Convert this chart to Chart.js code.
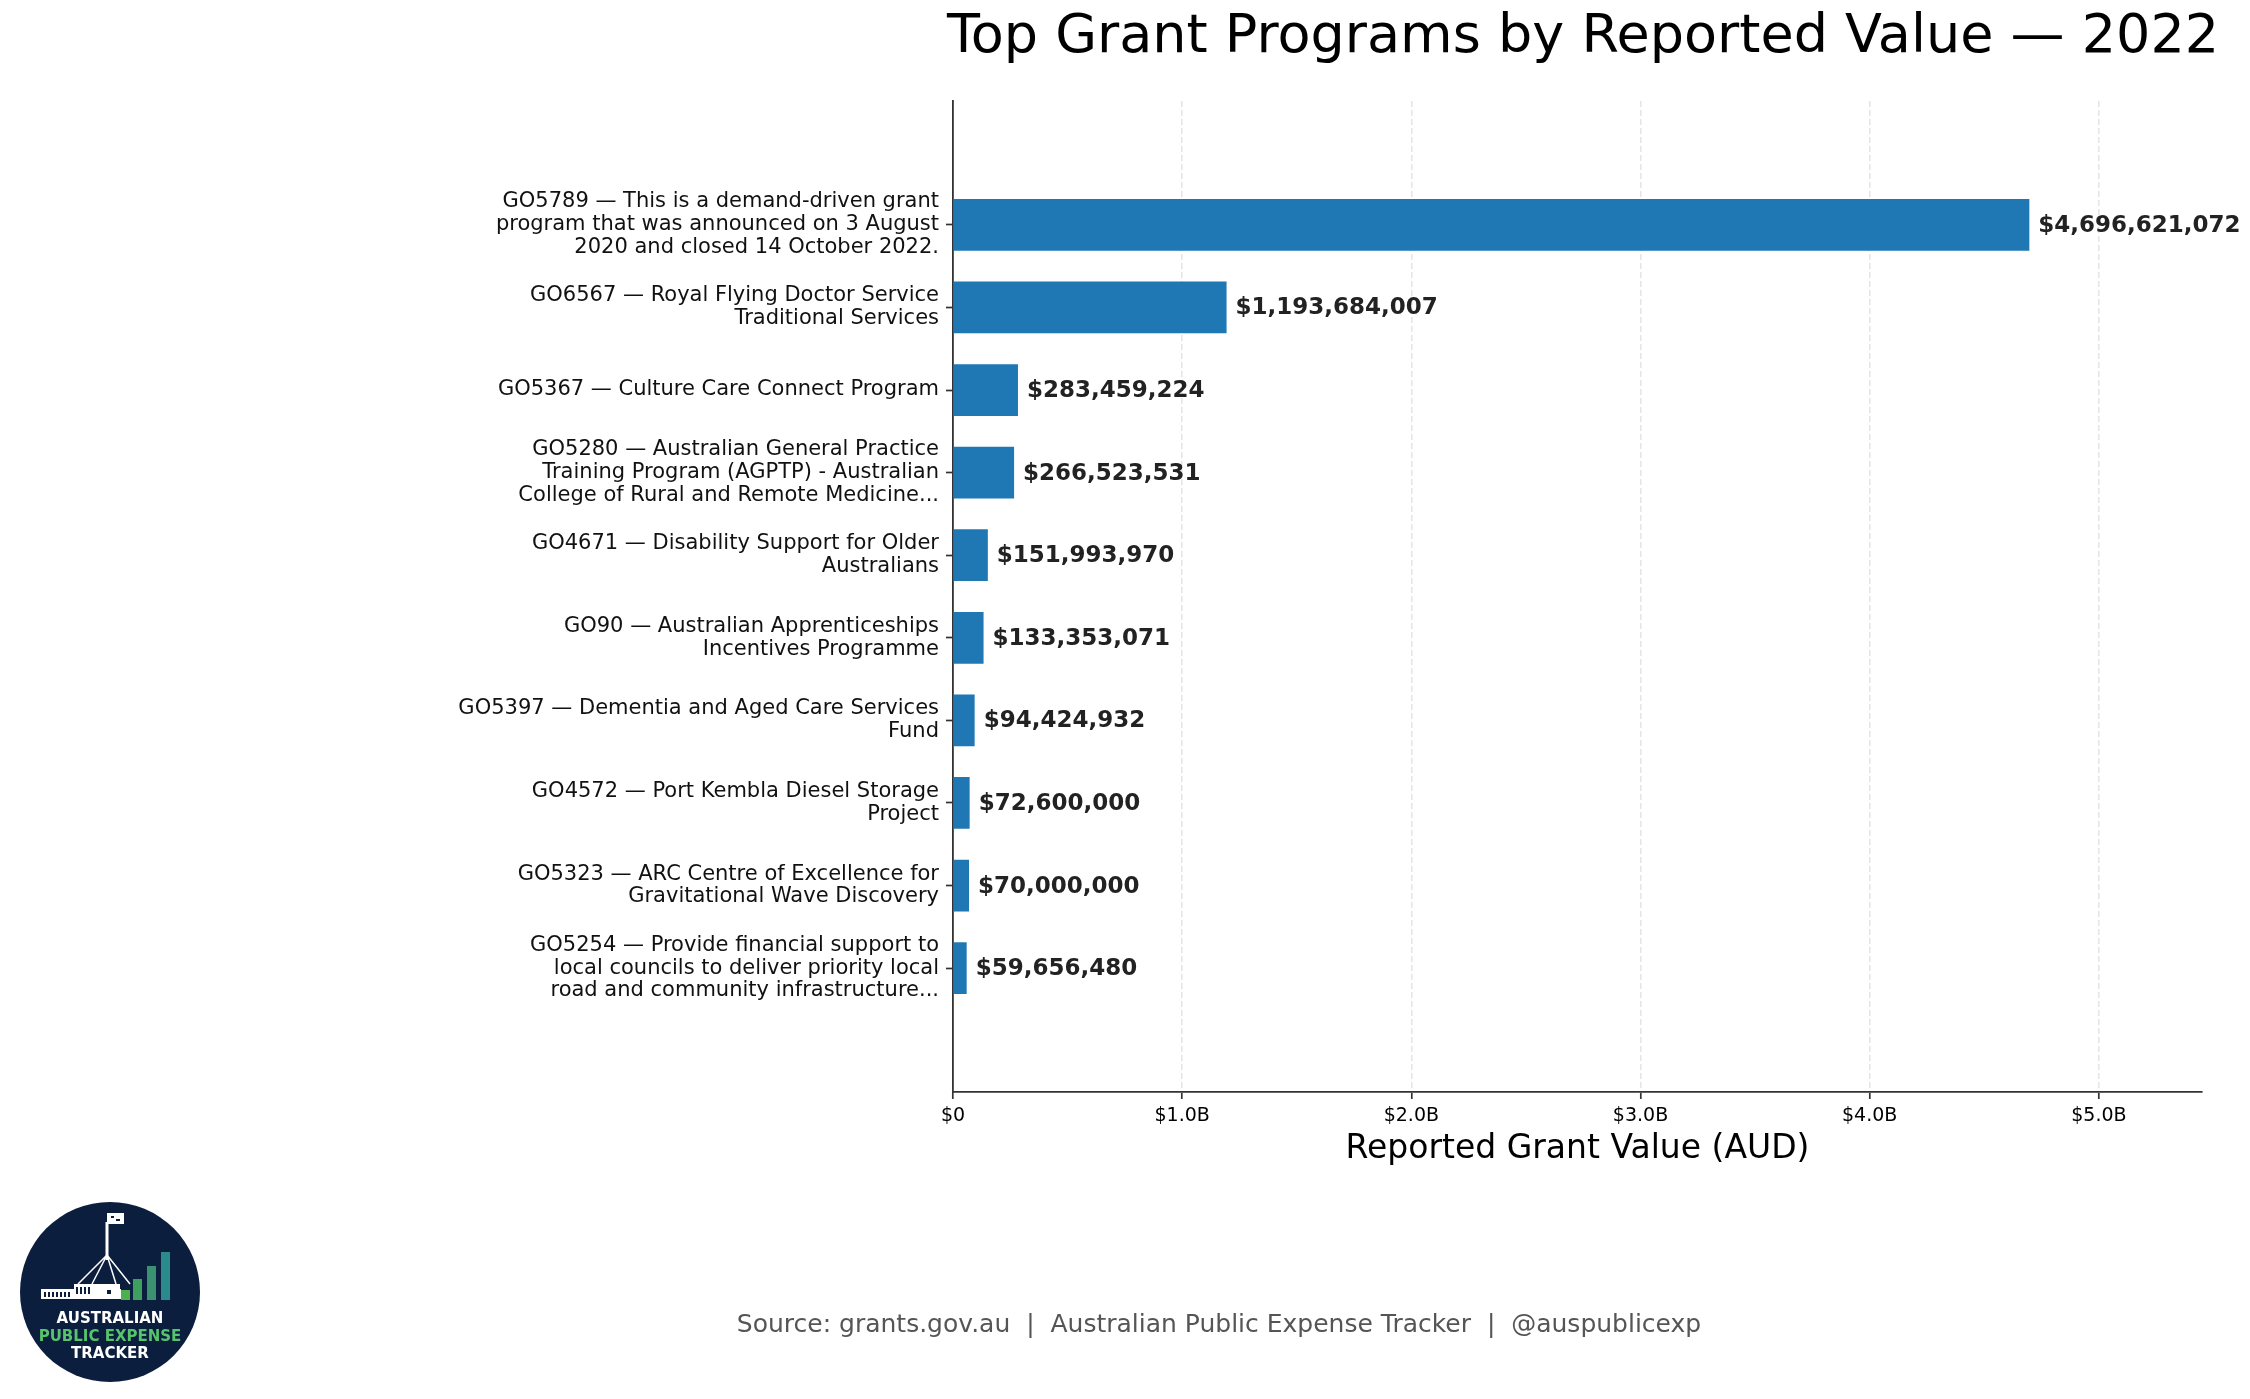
<!DOCTYPE html>
<html lang="en">
  <head>
    <meta charset="UTF-8" />
    <title>Top Grant Programs by Reported Value — 2022</title>
    <script src="https://cdn.jsdelivr.net/npm/chart.js@4.4.1/dist/chart.umd.min.js"></script>
    <style>
      body { margin: 0; background: #fff; }
      #wrap { position: relative; width: 2250px; height: 1399px; }
    </style>
  </head>
  <body>
    <div id="wrap"><canvas id="myChart"></canvas></div>

    <script>
      // programs, top to bottom
      const programs = [
        ['GO5789 — This is a demand-driven grant', 'program that was announced on 3 August', '2020 and closed 14 October 2022.'],
        ['GO6567 — Royal Flying Doctor Service', 'Traditional Services'],
        ['GO5367 — Culture Care Connect Program'],
        ['GO5280 — Australian General Practice', 'Training Program (AGPTP) - Australian', 'College of Rural and Remote Medicine...'],
        ['GO4671 — Disability Support for Older', 'Australians'],
        ['GO90 — Australian Apprenticeships', 'Incentives Programme'],
        ['GO5397 — Dementia and Aged Care Services', 'Fund'],
        ['GO4572 — Port Kembla Diesel Storage', 'Project'],
        ['GO5323 — ARC Centre of Excellence for', 'Gravitational Wave Discovery'],
        ['GO5254 — Provide financial support to', 'local councils to deliver priority local', 'road and community infrastructure...']
      ];
      const values = [4696621072, 1193684007, 283459224, 266523531, 151993970, 133353071, 94424932, 72600000, 70000000, 59656480];
      const xTicks = [0, 1e9, 2e9, 3e9, 4e9, 5e9];
      const xTickLabels = ['$0', '$1.0B', '$2.0B', '$3.0B', '$4.0B', '$5.0B'];
      const xMax = 5.45e9;

      const titleText = 'Top Grant Programs by Reported Value — 2022';
      const axisTitle = 'Reported Grant Value (AUD)';
      const footerText = 'Source: grants.gov.au  |  Australian Public Expense Tracker  |  @auspublicexp';

      const FONT = "'DejaVu Sans', sans-serif";

      // one empty band above and below, like the padded ylim of the original
      const labels = [''].concat(programs, ['']);
      const barData = [null].concat(values, [null]);

      function money(v) {
        return '$' + Math.round(v).toLocaleString('en-US');
      }

      const valueLabels = {
        id: 'valueLabels',
        afterDatasetsDraw(chart) {
          const ctx = chart.ctx;
          const meta = chart.getDatasetMeta(0);
          ctx.save();
          ctx.font = 'bold 23px ' + FONT;
          ctx.fillStyle = '#222';
          ctx.textAlign = 'left';
          ctx.textBaseline = 'middle';
          meta.data.forEach((bar, i) => {
            const v = barData[i];
            if (v == null) return;
            ctx.fillText(money(v), bar.x + 9, bar.y + 1);
          });
          ctx.restore();
        }
      };

      // title, footer and logo badge
      const decorations = {
        id: 'decorations',
        afterDraw(chart) {
          const ctx = chart.ctx;
          ctx.save();
          ctx.fillStyle = '#000';
          ctx.font = '54px ' + FONT;
          ctx.textAlign = 'center';
          ctx.textBaseline = 'middle';
          ctx.fillText(titleText, 1583, 38);

          ctx.fillStyle = '#555';
          ctx.font = '25px ' + FONT;
          ctx.fillText(footerText, 1219, 1325);

          drawLogo(ctx, 110, 1292, 90);
          ctx.restore();
        }
      };

      function drawLogo(ctx, cx, cy, r) {
        ctx.save();
        ctx.beginPath();
        ctx.arc(cx, cy, r, 0, Math.PI * 2);
        ctx.fillStyle = '#0c1e3e';
        ctx.fill();

        // parliament house outline
        ctx.strokeStyle = '#fff';
        ctx.fillStyle = '#fff';
        ctx.lineWidth = 1.5;
        ctx.fillRect(105.5, 1222, 3, 38);
        ctx.fillRect(107, 1213, 17, 11);
        ctx.fillStyle = '#0c1e3e';
        ctx.fillRect(111, 1216, 3, 2);
        ctx.fillRect(116, 1219, 4, 2);
        ctx.beginPath();
        ctx.moveTo(107, 1255); ctx.lineTo(78, 1284);
        ctx.moveTo(107, 1255); ctx.lineTo(92, 1284);
        ctx.moveTo(107, 1255); ctx.lineTo(116, 1284);
        ctx.moveTo(107, 1255); ctx.lineTo(130, 1284);
        ctx.stroke();
        ctx.fillStyle = '#fff';
        ctx.fillRect(41, 1289, 80, 10);
        ctx.fillRect(74, 1284, 46, 6);
        ctx.fillStyle = '#0c1e3e';
        for (let x = 44; x < 72; x += 4) ctx.fillRect(x, 1292, 2, 5);
        for (let x = 76; x < 90; x += 4) ctx.fillRect(x, 1287, 2, 7);
        ctx.fillRect(107, 1290, 4, 4);

        // rising bars
        const bars = [[121, 1290, '#4caf50'], [133, 1279, '#3f9f5f'], [147, 1266, '#3a9270'], [161, 1252, '#2b8a8c']];
        bars.forEach(b => {
          ctx.fillStyle = b[2];
          ctx.fillRect(b[0], b[1], 9, 1300 - b[1]);
        });

        ctx.textAlign = 'center';
        ctx.textBaseline = 'alphabetic';
        ctx.font = 'bold 15px ' + FONT;
        ctx.fillStyle = '#fff';
        ctx.fillText('AUSTRALIAN', cx, 1323);
        ctx.fillStyle = '#55c46c';
        ctx.fillText('PUBLIC EXPENSE', cx, 1341);
        ctx.fillStyle = '#fff';
        ctx.fillText('TRACKER', cx, 1358);
        ctx.restore();
      }

      const ctx = document.getElementById('myChart').getContext('2d');
      const myChart = new Chart(ctx, {
        type: 'bar',
        data: {
          labels: labels,
          datasets: [{
            data: barData,
            backgroundColor: '#1f77b4',
            borderWidth: 0,
            barPercentage: 0.626,
            categoryPercentage: 1
          }]
        },
        options: {
          indexAxis: 'y',
          responsive: true,
          maintainAspectRatio: false,
          animation: false,
          layout: { padding: { left: 453, right: 48, top: 101, bottom: 227 } },
          plugins: {
            legend: { display: false },
            tooltip: { enabled: false }
          },
          scales: {
            x: {
              type: 'linear',
              min: 0,
              max: xMax,
              afterFit(scale) { scale.height = 80; },
              afterBuildTicks(scale) { scale.ticks = xTicks.map(v => ({ value: v })); },
              ticks: {
                color: '#000',
                padding: 6,
                font: { family: FONT, size: 19 },
                callback: (v) => xTickLabels[xTicks.indexOf(v)]
              },
              grid: {
                color: 'rgba(0,0,0,0.1)',
                lineWidth: 1.6,
                tickColor: '#333',
                tickLength: 7,
                tickWidth: 1.7
              },
              border: { color: '#333', width: 1.8, dash: [6, 3] },
              title: {
                display: true,
                text: axisTitle,
                color: '#000',
                font: { family: FONT, size: 33 },
                padding: { top: 0, bottom: 3 }
              }
            },
            y: {
              afterFit(scale) { scale.width = 500; },
              ticks: {
                color: '#111',
                padding: 7,
                autoSkip: false,
                font: { family: FONT, size: 21, lineHeight: 1.09 }
              },
              grid: {
                offset: false,
                drawOnChartArea: false,
                tickLength: 7,
                tickWidth: 1.7,
                tickColor: (c) => (c.index === 0 || c.index === labels.length - 1) ? 'rgba(0,0,0,0)' : '#333'
              },
              border: { color: '#333', width: 1.8 }
            }
          }
        },
        plugins: [valueLabels, decorations]
      });
    </script>
  </body>
</html>
